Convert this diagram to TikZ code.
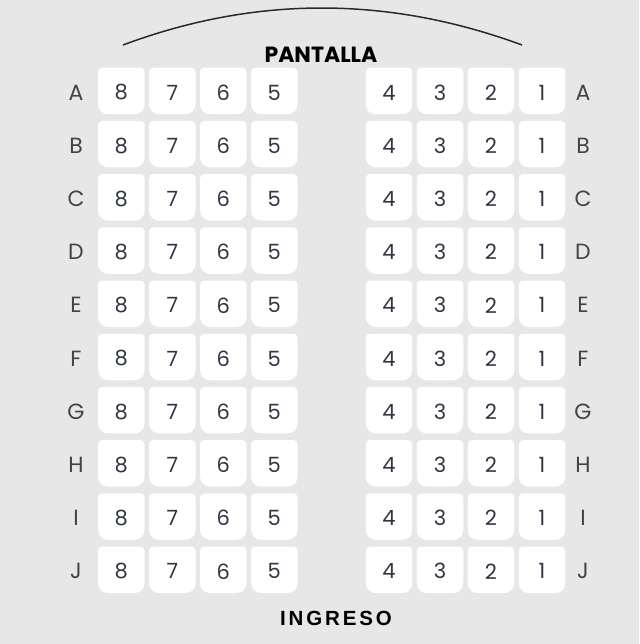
\documentclass[tikz,border=0pt]{standalone}
\usepackage{fontspec}
\setmainfont{Poppins}
\newfontfamily\ingresofont{Liberation Sans}[LetterSpace=14]
\definecolor{hall}{HTML}{E7E7E7}
\definecolor{seatnum}{HTML}{303542}
\definecolor{rowname}{HTML}{444444}
\definecolor{screenline}{HTML}{2A2A2A}

% white seat with small top and large bottom rounding
\newcommand{\seatbox}[2]{%
  \fill[white] (#1,#2) ++(-23.25,0) [rounded corners=4pt] -- ++(0,-23.25)
    -- ++(46.5,0) -- ++(0,23.25) [rounded corners=10pt] -- ++(0,23.25)
    -- ++(-46.5,0) -- cycle;}

\begin{document}
\begin{tikzpicture}[x=1pt, y=-1pt,
    seatlabel/.style={text=seatnum, font=\fontsize{21}{25}\selectfont},
    rowlabel/.style={text=rowname, font=\fontsize{22}{26}\selectfont},
    title/.style={font=\fontsize{22}{26}\selectfont\bfseries}]
  \fill[hall] (0,0) rectangle (639,644);
  \useasboundingbox (0,0) rectangle (639,644);

  % screen
  \coordinate (screen-l) at (123,45);
  \coordinate (screen-r) at (522,45);
  \draw[screenline, line width=1.5pt] (screen-l) .. controls (255,-4.3) and (388,-4.3) .. (screen-r);
  \node[title] (screen) at (321,55) {PANTALLA};

  % rows of seats
  \foreach \r [count=\i from 0] in {A,B,C,D,E,F,G,H,I,J} {
    \pgfmathsetmacro{\y}{91+53.2*\i}
    \node[rowlabel] (\r-left) at (76,\y+1.5) {\r};
    \node[rowlabel] (\r-right) at (583,\y+1.5) {\r};
    \foreach \s [count=\k from 0] in {8,7,6,5} {
      \pgfmathsetmacro{\x}{121.3+51*\k}
      \seatbox{\x}{\y}
      \node[seatlabel] (\r\s) at (\x,\y+1.5) {\s};
    }
    \foreach \s [count=\k from 0] in {4,3,2,1} {
      \pgfmathsetmacro{\x}{389+51*\k}
      \seatbox{\x}{\y}
      \node[seatlabel] (\r\s) at (\x,\y+1.5) {\s};
    }
  }

  % entrance
  \node[font=\fontsize{20.5}{24}\selectfont\ingresofont\bfseries] (entry) at (336,618) {INGRESO};
\end{tikzpicture}
\end{document}
